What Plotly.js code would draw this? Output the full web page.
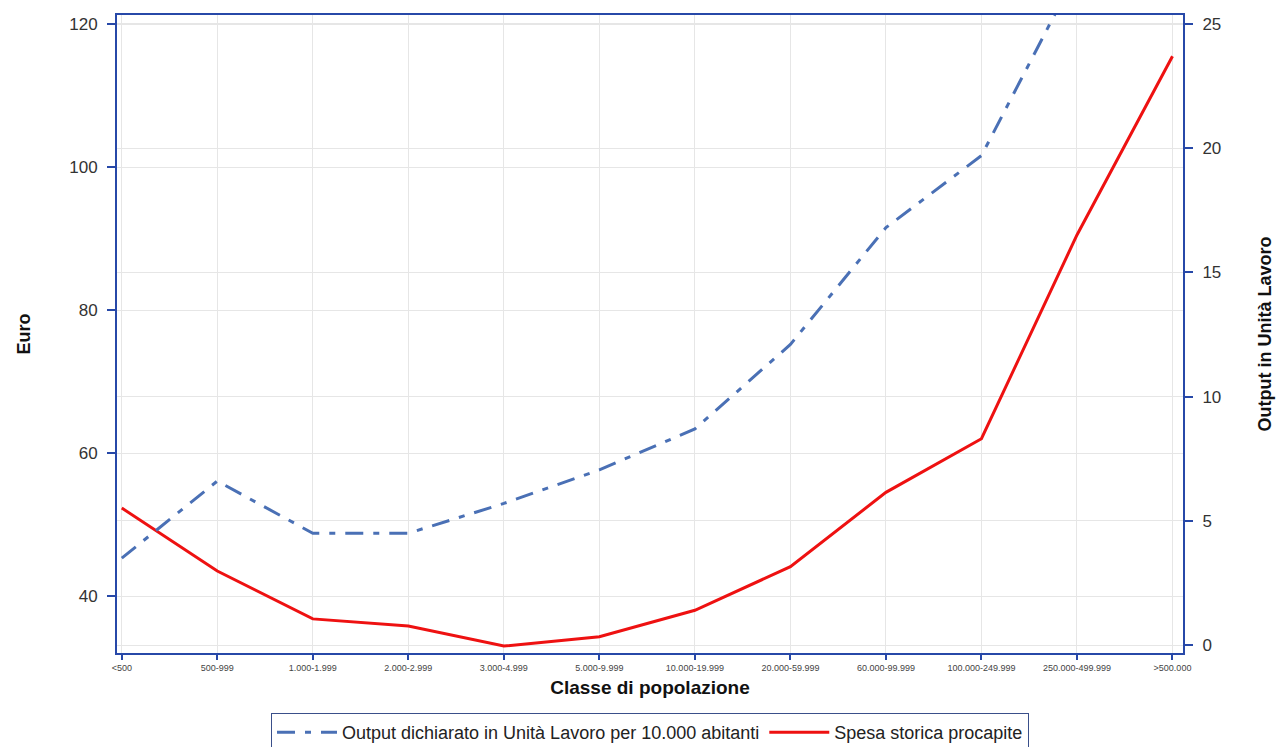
<!DOCTYPE html>
<html>
<head>
<meta charset="utf-8">
<script src="https://cdn.plot.ly/plotly-3.0.1.min.js"></script>
<style>html,body{margin:0;padding:0;background:#fff;}#chart{width:1280px;height:747px;}</style>
</head>
<body>
<div id="chart"></div>
<script>
const categories = ["<500","500-999","1.000-1.999","2.000-2.999","3.000-4.999","5.000-9.999","10.000-19.999","20.000-59.999","60.000-99.999","100.000-249.999","250.000-499.999",">500.000"];
const spesaStorica = [52.3, 43.5, 36.8, 35.8, 33.0, 34.3, 38.0, 44.1, 54.5, 62.0, 90.5, 115.5];
const outputUL = [3.5, 6.6, 4.5, 4.5, 5.7, 7.05, 8.7, 12.1, 16.8, 19.7, 27.1, 31.0];

const idx = categories.map((c, i) => i);
const axisBlue = '#2748a8';
const fontFam = 'Liberation Sans, Arial, sans-serif';

const traces = [
  {
    x: idx, y: outputUL, yaxis: 'y2', type: 'scatter', mode: 'lines',
    name: 'Output dichiarato in Unità Lavoro per 10.000 abitanti',
    line: {color: '#4a70b5', width: 3, dash: '18px,10px,6px,10px'}
  },
  {
    x: idx, y: spesaStorica, yaxis: 'y', type: 'scatter', mode: 'lines',
    name: 'Spesa storica procapite',
    line: {color: '#ee1111', width: 3}
  }
];

const layout = {
  width: 1280, height: 747,
  margin: {l: 117, r: 97, t: 15, b: 94, autoexpand: false},
  paper_bgcolor: '#ffffff', plot_bgcolor: '#ffffff',
  font: {family: fontFam, color: '#333'},
  showlegend: true,
  legend: {
    orientation: 'h', x: 0.5, xanchor: 'center', y: -0.094, yanchor: 'top',
    bordercolor: '#3a4f8a', borderwidth: 1, font: {size: 18, color: '#222'},
    traceorder: 'normal', tracegroupgap: 0, itemwidth: 60
  },
  xaxis: {
    range: [-0.05, 11.11],
    tickmode: 'array', tickvals: idx, ticktext: categories,
    tickfont: {size: 9, color: '#444'},
    ticks: 'outside', ticklen: 5, tickwidth: 2, tickcolor: axisBlue,
    showline: true, linecolor: axisBlue, linewidth: 2, mirror: true,
    showgrid: true, gridcolor: '#e6e6e6', gridwidth: 1,
    zeroline: false,
    title: {text: 'Classe di popolazione', font: {size: 19, color: '#111', family: fontFam, weight: 'bold'}, standoff: 9}
  },
  yaxis: {
    range: [32.03, 121.26],
    tickvals: [40, 60, 80, 100, 120],
    tickfont: {size: 17, color: '#333'},
    ticks: 'outside', ticklen: 8, tickwidth: 2, tickcolor: axisBlue,
    ticklabelstandoff: 6,
    showline: true, linecolor: axisBlue, linewidth: 2,
    showgrid: true, gridcolor: '#e6e6e6', gridwidth: 1,
    zeroline: false,
    title: {text: 'Euro', font: {size: 18, color: '#111', family: fontFam, weight: 'bold'}, standoff: 34}
  },
  yaxis2: {
    overlaying: 'y', side: 'right',
    range: [-0.32, 25.36],
    tickvals: [0, 5, 10, 15, 20, 25],
    tickfont: {size: 17, color: '#333'},
    ticks: 'outside', ticklen: 8, tickwidth: 2, tickcolor: axisBlue,
    ticklabelstandoff: 6,
    showline: true, linecolor: axisBlue, linewidth: 2,
    showgrid: true, gridcolor: '#e6e6e6', gridwidth: 1,
    zeroline: false,
    title: {text: 'Output in Unità Lavoro', font: {size: 18, color: '#111', family: fontFam, weight: 'bold'}, standoff: 38}
  }
};

Plotly.newPlot('chart', traces, layout, {displayModeBar: false, responsive: false});
</script>
</body>
</html>
